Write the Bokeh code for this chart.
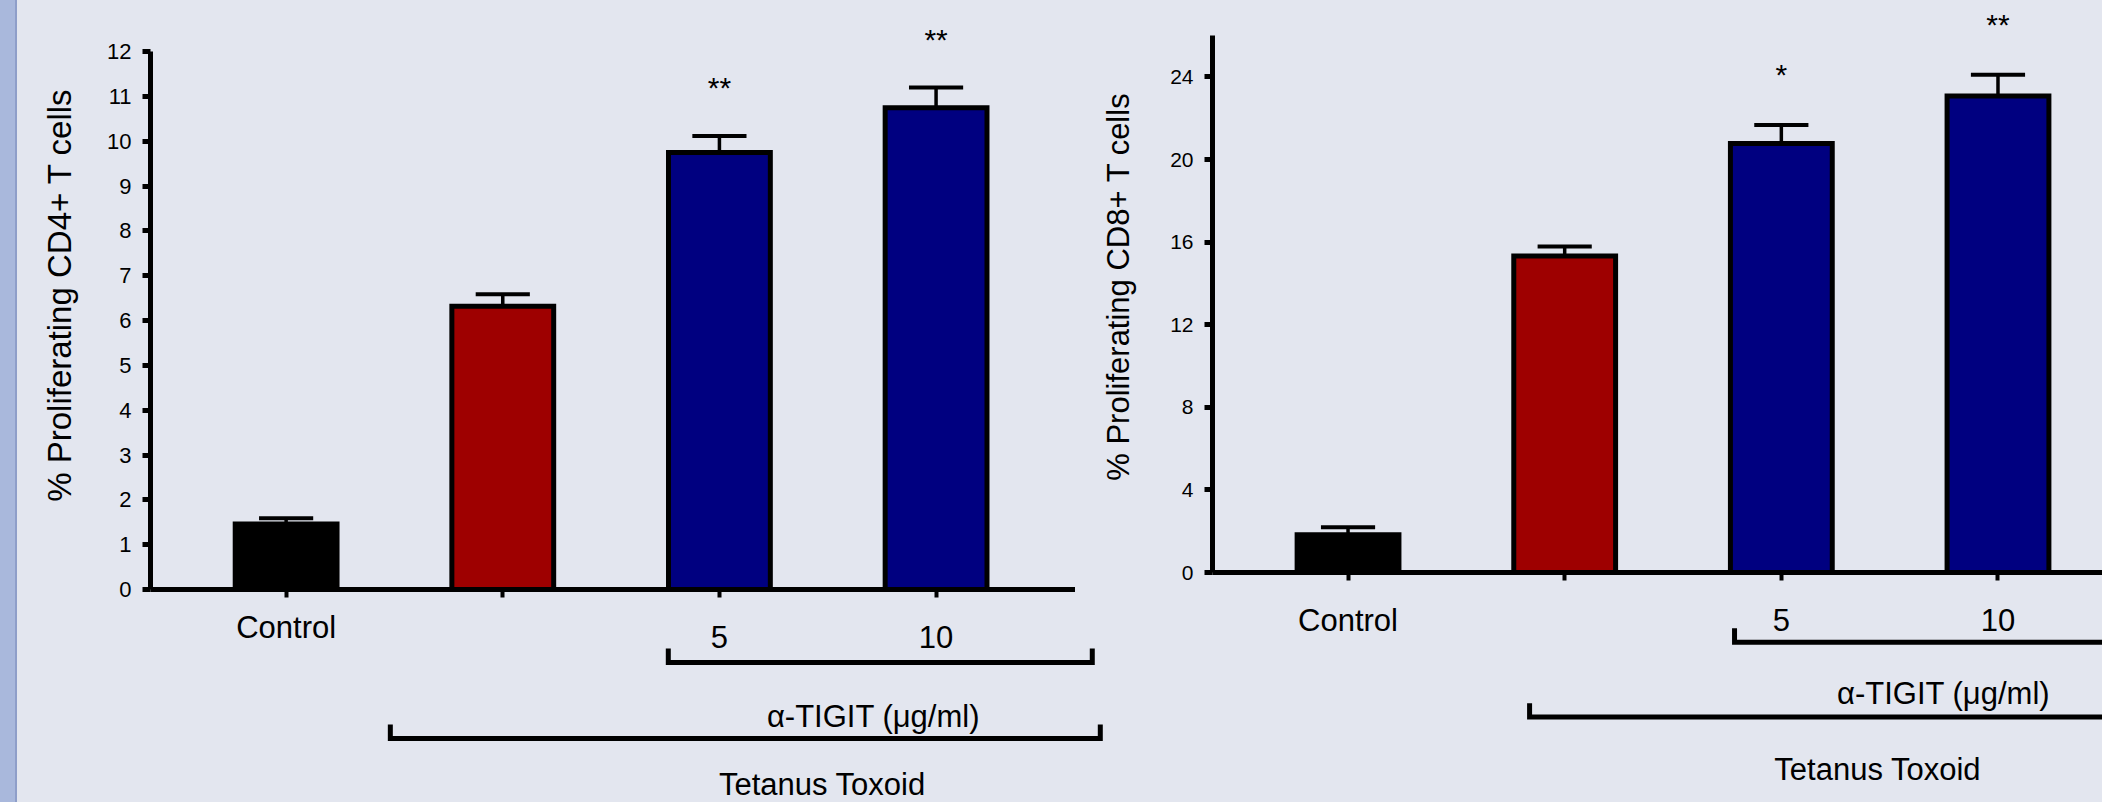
from bokeh.plotting import figure
from bokeh.models import Range1d, FixedTicker, Div
from bokeh.layouts import row, column
from bokeh.embed import file_html
from bokeh.resources import INLINE
from bokeh.core.properties import value

# ---------------- data ----------------
positions = [1, 2, 3, 4]
x_labels = ["Control", "", "5", "10"]
bar_colors = ["#000000", "#9e0000", "#000080", "#000080"]

cd4_mean = [1.46, 6.32, 9.75, 10.75]
cd4_sem = [0.13, 0.27, 0.37, 0.45]
cd4_stars = ["", "", "**", "**"]
cd4_ticks = [0, 1, 2, 3, 4, 5, 6, 7, 8, 9, 10, 11, 12]

cd8_mean = [1.83, 15.33, 20.78, 23.08]
cd8_sem = [0.36, 0.46, 0.89, 1.02]
cd8_stars = ["", "", "*", "**"]
cd8_ticks = [0, 4, 8, 12, 16, 20, 24]

tigit_label = "α-TIGIT (μg/ml)"
tt_label = "Tetanus Toxoid"

# ---------------- style / layout ----------------
BG = "#e3e6ef"
FONT = value("Liberation Sans")
STEP = 216.65          # px per category
STRIP_W = 17
TOP_H = 602            # height of the bar row
BOT_H = 200            # height of the annotation row


def make_top(mean, sem, stars, ticks, axis_top, ppu, frame_h, x_start, frame_w,
             b_left, ylabel, title_px, tick_px, title_standoff, star_gap):
    p = figure(frame_width=frame_w, frame_height=frame_h,
               x_range=Range1d(x_start, x_start + frame_w / STEP),
               y_range=Range1d(0, frame_h / ppu),
               min_border_left=b_left, min_border_right=0, min_border_top=0,
               min_border_bottom=TOP_H - frame_h, toolbar_location=None,
               output_backend="svg", background_fill_color=BG,
               border_fill_color=BG, outline_line_color=None)
    p.grid.visible = False
    tops = [m + s for m, s in zip(mean, sem)]
    half_cap = 0.125
    p.segment(x0=positions, y0=mean, x1=positions, y1=tops,
              line_color="black", line_width=3.5)
    p.segment(x0=[x - half_cap for x in positions], y0=tops,
              x1=[x + half_cap for x in positions], y1=tops,
              line_color="black", line_width=4)
    p.vbar(x=positions, top=mean, bottom=0, width=0.47, fill_color=bar_colors,
           line_color="black", line_width=5, line_join="miter")
    star_x = [x for x, s in zip(positions, stars) if s]
    star_y = [t + star_gap / ppu for t, s in zip(tops, stars) if s]
    star_t = [s for s in stars if s]
    p.text(x=star_x, y=star_y, text=star_t,
           text_align="center", text_baseline="alphabetic", text_font=FONT,
           text_font_size="30px", text_color="black")

    ya = p.yaxis[0]
    ya.bounds = (0, axis_top)
    ya.ticker = FixedTicker(ticks=ticks)
    ya.axis_line_width = 5
    ya.major_tick_line_width = 5
    ya.major_tick_out = 8
    ya.major_tick_in = 0
    ya.minor_tick_out = 0
    ya.minor_tick_in = 0
    ya.major_label_text_font = "Liberation Sans"
    ya.major_label_text_font_size = f"{tick_px}px"
    ya.major_label_text_color = "black"
    ya.major_label_standoff = 11
    ya.axis_label = ylabel
    ya.axis_label_text_font = "Liberation Sans"
    ya.axis_label_text_font_size = f"{title_px}px"
    ya.axis_label_text_font_style = "normal"
    ya.axis_label_text_color = "black"
    ya.axis_label_standoff = title_standoff

    xa = p.xaxis[0]
    xa.ticker = FixedTicker(ticks=positions)
    xa.axis_line_width = 5
    xa.major_tick_line_width = 4
    xa.major_tick_out = 8
    xa.major_tick_in = 0
    xa.minor_tick_out = 0
    xa.minor_tick_in = 0
    xa.major_label_text_color = None
    xa.major_label_text_font_size = "1px"
    xa.major_label_standoff = 0
    return p


def make_bottom(frame_w, x_start, b_left, ctrl_d, dose_d, br1, br1_d, tig_x, tig_d,
                br2, br2_d, tt_x, tt_d):
    p = figure(frame_width=frame_w, frame_height=BOT_H,
               x_range=Range1d(x_start, x_start + frame_w / STEP),
               y_range=Range1d(-BOT_H, 0),
               min_border_left=b_left, min_border_right=0, min_border_top=0,
               min_border_bottom=0, toolbar_location=None,
               output_backend="svg", background_fill_color=BG,
               border_fill_color=BG, outline_line_color=None,
               x_axis_type=None, y_axis_type=None)
    p.grid.visible = False
    lab_x = [x for x, t in zip(positions, x_labels) if t]
    lab_t = [t for t in x_labels if t]
    lab_y = [-ctrl_d if t == "Control" else -dose_d for t in lab_t]
    p.text(x=lab_x, y=lab_y, text=lab_t, text_align="center",
           text_baseline="alphabetic", text_font=FONT, text_font_size="31px",
           text_color="black")
    p.multi_line(xs=[[br1[0], br1[0], br1[1], br1[1]], [br2[0], br2[0], br2[1], br2[1]]],
                 ys=[[-br1_d[0], -br1_d[1], -br1_d[1], -br1_d[0]],
                     [-br2_d[0], -br2_d[1], -br2_d[1], -br2_d[0]]],
                 line_color="black", line_width=5, line_join="miter")
    p.text(x=[tig_x, tt_x], y=[-tig_d, -tt_d], text=[tigit_label, tt_label],
           text_align="center", text_baseline="alphabetic", text_font=FONT,
           text_font_size="31px", text_color="black")
    return p


# left panel (CD4)
lt = make_top(cd4_mean, cd4_sem, cd4_stars, cd4_ticks, 12, 44.82, 589, 0.374, 925,
              133, "% Proliferating CD4+ T cells", 33, 22, 26, 48)
lb = make_bottom(955, 0.374, 133, 24.5, 34.5, (2.764, 4.721), (46, 60), 3.711, 114,
                 (1.481, 4.758), (122, 136), 3.475, 182)

# right panel (CD8)
rt = make_top(cd8_mean, cd8_sem, cd8_stars, cd8_ticks, 26, 20.65, 572, 0.3744, 890,
              137, "% Proliferating CD8+ T cells", 31, 21, 31, 50.6)
rb = make_bottom(890, 0.3744, 107, 17.5, 17.5, (2.784, 4.9), (25.7, 39.7), 3.749, 90.5,
                 (1.838, 4.9), (100.7, 114.5), 3.445, 167)

strip = Div(text="", width=STRIP_W, height=TOP_H + BOT_H, margin=0,
            styles={"background-color": "#a9b8dc", "box-sizing": "border-box",
                    "border-right": "2px solid #8e9ec9"})

bgs = {"background-color": BG}
layout = row(strip,
             column(row(lt, rt, styles=bgs), row(lb, rb, styles=bgs), styles=bgs),
             styles=bgs)

open("out.html", "w").write(file_html(layout, INLINE))
